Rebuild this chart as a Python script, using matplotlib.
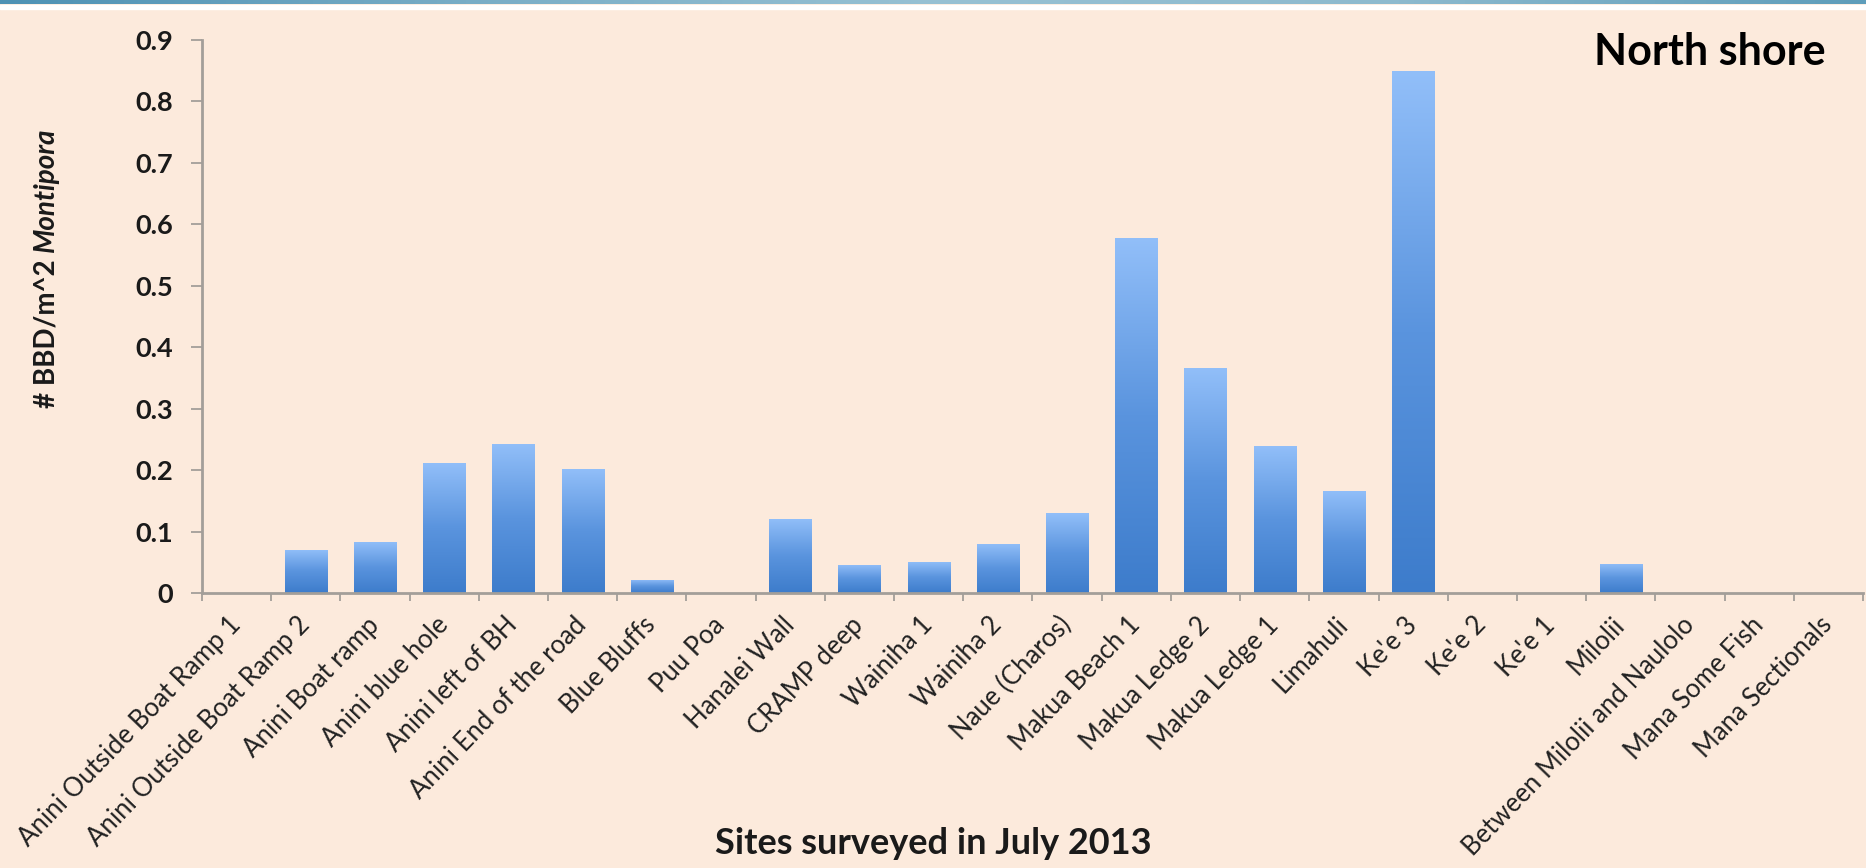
import numpy as np
import matplotlib
matplotlib.use("Agg")
import matplotlib.pyplot as plt
from matplotlib.colors import LinearSegmentedColormap

# Survey sites (north shore, Kauai) and disease density per site
sites = [
    "Anini Outside Boat Ramp 1", "Anini Outside Boat Ramp 2", "Anini Boat ramp",
    "Anini blue hole", "Anini left of BH", "Anini End of the road", "Blue Bluffs",
    "Puu Poa", "Hanalei Wall", "CRAMP deep", "Wainiha 1", "Wainiha 2",
    "Naue (Charos)", "Makua Beach 1", "Makua Ledge 2", "Makua Ledge 1",
    "Limahuli", "Ke'e 3", "Ke'e 2", "Ke'e 1", "Milolii",
    "Between Milolii and Naulolo", "Mana Some Fish", "Mana Sectionals",
]
bbd_density = [
    0.0, 0.070, 0.084, 0.212, 0.243, 0.202, 0.022,
    0.0, 0.121, 0.046, 0.051, 0.080,
    0.130, 0.578, 0.366, 0.240,
    0.167, 0.850, 0.0, 0.0, 0.048,
    0.0, 0.0, 0.0,
]
y_ticks = [0.0, 0.1, 0.2, 0.3, 0.4, 0.5, 0.6, 0.7, 0.8, 0.9]
y_tick_labels = ["0", "0.1", "0.2", "0.3", "0.4", "0.5", "0.6", "0.7", "0.8", "0.9"]

FONT = ["Lato", "DejaVu Sans"]
BG = "#FCEADC"
AXIS_GREY = "#A39E99"
TEXT = "#1A1A1A"

W, H = 1866, 868
fig = plt.figure(figsize=(W / 100, H / 100), dpi=100, facecolor=BG)

# thin slide banner along the top edge, with a white rule beneath it
fig.patches.append(plt.Rectangle((0, 1 - 8.5 / H), 1, 4 / H, transform=fig.transFigure,
                                 color="white", zorder=0))
band = fig.add_axes([0, 1 - 4.5 / H, 1, 4.5 / H])
band_cmap = LinearSegmentedColormap.from_list(
    "band", ["#4E92B4", "#78ADC6", "#97C1D3", "#8DBACE", "#5E9DBA"])
band.imshow(np.linspace(0, 1, 512)[None, :], aspect="auto", cmap=band_cmap,
            extent=[0, 1, 0, 1])
band.set_axis_off()

x0, x1 = 202, 1863
y_base, y_top = 593.3, 40
ax = fig.add_axes([x0 / W, 1 - y_base / H, (x1 - x0) / W, (y_base - y_top) / H])
ax.set_facecolor(BG)

# vertical gradient for each bar: light on top, deeper blue at the base
bar_cmap = LinearSegmentedColormap.from_list("bar", ["#3D7CCB", "#5A94DE", "#92BFF9"])
grad = np.linspace(0, 1, 256)[:, None]
bar_w = 0.61
xs = np.arange(len(sites))
bars = ax.bar(xs, bbd_density, width=bar_w, color="none", edgecolor="none")
for rect, v in zip(bars, bbd_density):
    if v <= 0:
        continue
    im = ax.imshow(grad, cmap=bar_cmap, origin="lower", aspect="auto",
                   extent=[rect.get_x(), rect.get_x() + rect.get_width(), 0, v],
                   zorder=2, interpolation="bilinear")
    im.set_clip_path(rect)

ax.set_xlim(-0.5, len(sites) - 0.5)
ax.set_ylim(0, 0.9)

for s in ("top", "right"):
    ax.spines[s].set_visible(False)
for s in ("left", "bottom"):
    ax.spines[s].set_color(AXIS_GREY)
    ax.spines[s].set_linewidth(2.0)

ax.set_yticks(y_ticks)
ax.set_yticklabels(y_tick_labels, family=FONT, weight="bold", fontsize=19.5, color=TEXT)
ax.tick_params(axis="y", direction="out", length=8, width=1.3, color=AXIS_GREY, pad=13)

# category boundaries carry the tick marks, centres carry the names
ax.set_xticks(np.arange(-0.5, len(sites), 1.0))
ax.set_xticklabels([])
ax.tick_params(axis="x", which="major", direction="out", length=5.5, width=1.3,
               color=AXIS_GREY)
ax.set_xticks(xs, minor=True)
ax.set_xticklabels(sites, minor=True, family=FONT, fontsize=18.5, color="#222222",
                   rotation=46, ha="right", va="center", rotation_mode="anchor")
ax.tick_params(axis="x", which="minor", length=0, pad=20)

fig.text(1826 / W, 1 - 52 / H, "North shore", ha="right", va="center",
         family=FONT, weight="bold", fontsize=31, color="black")
fig.text(933 / W, 1 - 843 / H, "Sites surveyed in July 2013", ha="center", va="center",
         family=FONT, weight="bold", fontsize=26, color=TEXT)

# y-axis title: bold text followed by the italic genus name
renderer = fig.canvas.get_renderer()
lab_x, lab_y = 54 / W, 1 - 408 / H
t1 = fig.text(lab_x, lab_y, "# BBD/m^2", rotation=90, ha="left", va="baseline",
              rotation_mode="anchor", family=FONT, weight="bold", fontsize=20, color=TEXT)
bb = t1.get_window_extent(renderer)
t2 = fig.text(lab_x, (bb.y1 + 7) / H, "Montipora", rotation=90, ha="left", va="baseline",
              rotation_mode="anchor", family=FONT, weight="bold", style="italic",
              fontsize=20, color=TEXT)

fig.savefig("out.png", dpi=100, facecolor=BG)
